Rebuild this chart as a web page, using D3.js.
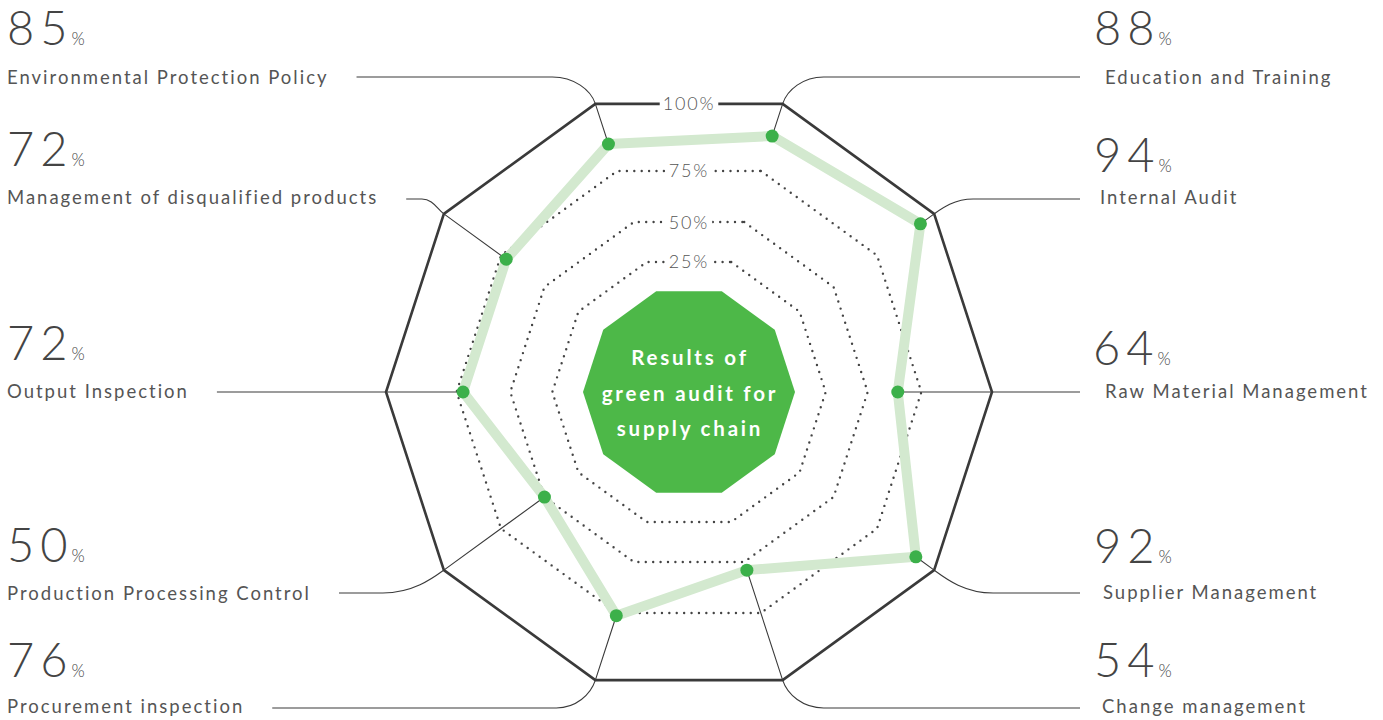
<!DOCTYPE html>
<html>
<head>
<meta charset="utf-8">
<script src="https://cdn.jsdelivr.net/npm/d3@7"></script>
<style>
  body { margin: 0; background: #fff; }
  svg { display: block; font-family: Lato, "Open Sans", sans-serif; }
</style>
</head>
<body>
<script>
// categories clockwise, starting at the upper-right spoke
const categories = [
  "Education and Training", "Internal Audit", "Raw Material Management",
  "Supplier Management", "Change management", "Procurement inspection",
  "Production Processing Control", "Output Inspection",
  "Management of disqualified products", "Environmental Protection Policy"
];
const values = [88, 94, 64, 92, 54, 76, 50, 72, 72, 85];
const ringTicks = [25, 50, 75, 100];
const ringLabels = ["25%", "50%", "75%", "100%"];
const centerTitle = ["Results of", "green audit for", "supply chain"];

// label placement for each spoke (same order as categories)
const layout = [
  { side: "right", numX: 1094, labX: 1105, numY: 45,  labY: 84,  lineY: 77,  bend: 41 },
  { side: "right", numX: 1094, labX: 1100, numY: 172, labY: 204, lineY: 199, bend: 39 },
  { side: "right", numX: 1093, labX: 1105, numY: 365, labY: 398, lineY: 392, bend: 0 },
  { side: "right", numX: 1094, labX: 1103, numY: 563, labY: 599, lineY: 593, bend: 59 },
  { side: "right", numX: 1094, labX: 1102, numY: 677, labY: 713, lineY: 708, bend: 41 },
  { side: "left",  numX: 7,    labX: 7,    numY: 677, labY: 713, lineY: 708, bend: 39 },
  { side: "left",  numX: 7,    labX: 7,    numY: 562, labY: 600, lineY: 593, bend: 61 },
  { side: "left",  numX: 7,    labX: 7,    numY: 360, labY: 398, lineY: 392, bend: 0 },
  { side: "left",  numX: 7,    labX: 7,    numY: 166, labY: 204, lineY: 199, bend: 22 },
  { side: "left",  numX: 7,    labX: 7,    numY: 45,  labY: 84,  lineY: 77,  bend: 43 }
];

const width = 1383, height = 720;
const cx = 689, cy = 392;

const svg = d3.select("body").append("svg")
  .attr("width", width)
  .attr("height", height);

// radial scale (vertex radius), rings are not evenly spaced in the design
const r = d3.scaleLinear()
  .domain([0, 25, 50, 75, 100])
  .range([106, 136.7, 178.7, 232.4, 303]);

// spoke angle in degrees, counter-clockwise from +x
const angle = d3.scaleLinear()
  .domain([0, categories.length])
  .range([72, 72 - 360]);

function pt(i, radius) {
  const a = angle(i) * Math.PI / 180;
  return [cx + radius * Math.cos(a), cy - radius * Math.sin(a)];
}

const closed = d3.line().curve(d3.curveLinearClosed);

// dotted rings
svg.selectAll(".ring")
  .data(ringTicks.filter(t => t < 100))
  .enter().append("path")
  .attr("class", "ring")
  .attr("d", t => closed(categories.map((c, i) => pt(i, r(t)))))
  .attr("fill", "none")
  .attr("stroke", "#444")
  .attr("stroke-width", 2.4)
  .attr("stroke-linecap", "round")
  .attr("stroke-dasharray", "0,7.4");

// outer ring
svg.append("path")
  .attr("d", closed(categories.map((c, i) => pt(i, r(100)))))
  .attr("fill", "none")
  .attr("stroke", "#3a3a3a")
  .attr("stroke-width", 2.6)
  .attr("stroke-linejoin", "miter");

// ring labels on the top edge
const apothem = t => r(t) * Math.cos(Math.PI / 10);
const tickG = svg.selectAll(".tick")
  .data(ringTicks)
  .enter().append("g")
  .attr("class", "tick")
  .attr("transform", t => `translate(${cx},${cy - apothem(t)})`);

tickG.append("text")
  .text((t, i) => ringLabels[i])
  .attr("text-anchor", "middle")
  .attr("dy", "0.36em")
  .attr("font-size", 18)
  .attr("font-weight", 300)
  .attr("letter-spacing", 1.8)
  .attr("fill", "#555");

tickG.each(function() {
  const g = d3.select(this);
  const b = g.select("text").node().getBBox();
  g.insert("rect", "text")
    .attr("x", b.x - 3)
    .attr("y", b.y)
    .attr("width", b.width + 6)
    .attr("height", b.height)
    .attr("fill", "#fff");
});

// leader lines: data point -> vertex -> rounded bend -> horizontal to label
const leaders = svg.append("g");
categories.forEach((c, i) => {
  const L = layout[i];
  const p = pt(i, r(values[i]));
  const v = pt(i, r(100));
  const sgn = L.side === "right" ? 1 : -1;
  const path = d3.path();
  path.moveTo(p[0], p[1]);
  path.lineTo(v[0], v[1]);
  if (L.bend !== 0) {
    const hx = v[0] + sgn * L.bend;
    const dx = v[0] - p[0], dy = v[1] - p[1];
    const len = Math.hypot(dx, dy);
    const k = Math.abs(L.lineY - v[1]) * 0.55;
    path.bezierCurveTo(
      v[0] + dx / len * k, v[1] + dy / len * k,
      hx - sgn * L.bend * 0.5, L.lineY,
      hx, L.lineY
    );
  }
  L.path = path;
  L.leader = leaders.append("path")
    .attr("fill", "none")
    .attr("stroke", "#3a3a3a")
    .attr("stroke-width", 1.1);
});

// center polygon and title
svg.append("path")
  .attr("d", closed(categories.map((c, i) => pt(i, r(0)))))
  .attr("fill", "#4db848");

svg.append("text")
  .attr("text-anchor", "middle")
  .attr("font-size", 20.5)
  .attr("font-weight", 700)
  .attr("letter-spacing", 2.8)
  .attr("fill", "#fff")
  .selectAll("tspan")
  .data(centerTitle)
  .enter().append("tspan")
  .attr("x", cx + 1)
  .attr("y", (d, i) => cy - 27 + i * 35.5)
  .text(d => d);

// data line and points
svg.append("path")
  .attr("d", closed(values.map((v, i) => pt(i, r(v)))))
  .attr("fill", "none")
  .attr("stroke", "#d3e9cf")
  .attr("stroke-width", 10)
  .attr("stroke-linejoin", "round");

svg.selectAll(".dot")
  .data(values)
  .enter().append("circle")
  .attr("class", "dot")
  .attr("cx", (v, i) => pt(i, r(v))[0])
  .attr("cy", (v, i) => pt(i, r(v))[1])
  .attr("r", 6.5)
  .attr("fill", "#3cb04a");

// labels
categories.forEach((c, i) => {
  const L = layout[i];
  const num = svg.append("text")
    .attr("x", L.numX)
    .attr("y", L.numY)
    .attr("fill", "#444");
  num.append("tspan")
    .attr("font-size", 47)
    .attr("font-weight", 300)
    .attr("letter-spacing", 6)
    .text(values[i]);
  num.append("tspan")
    .attr("font-size", 17)
    .attr("font-weight", 300)
    .attr("dx", -2)
    .text("%");

  const lab = svg.append("text")
    .attr("x", L.labX)
    .attr("y", L.labY)
    .attr("font-size", 18.5)
    .attr("font-weight", 400)
    .attr("letter-spacing", 2)
    .attr("fill", "#555")
    .text(c);

  // horizontal run of the leader
  let endX;
  if (L.side === "right") endX = 1080;
  else {
    const b = lab.node().getBBox();
    endX = b.x + b.width + 28;
  }
  L.path.lineTo(endX, L.lineY);
  L.leader.attr("d", L.path.toString());
});
</script>
</body>
</html>
